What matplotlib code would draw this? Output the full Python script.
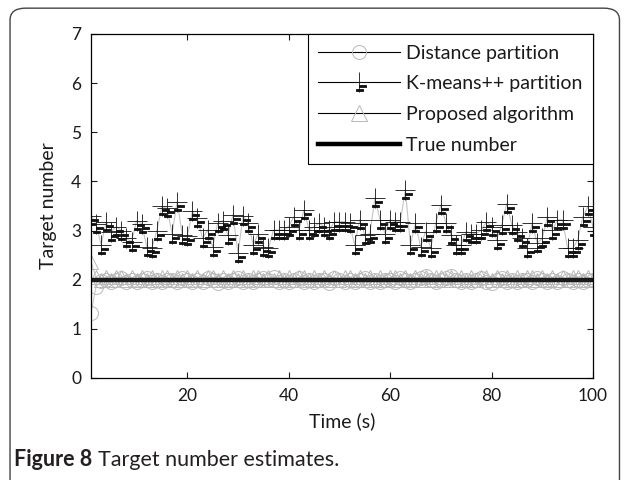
import numpy as np
from matplotlib import pyplot as plt
from matplotlib.path import Path
from matplotlib.lines import Line2D
from matplotlib.patches import FancyBboxPatch

plt.rcParams['font.family'] = ['Lato', 'DejaVu Sans']

# time axis (s)
time = list(range(1, 101))

# K-means++ partition estimates, t = 1..100
kmeans = [3.3, 3.14, 2.71, 3.18, 2.98, 3.08, 3.0, 2.84, 2.77, 3.2,
          3.14, 2.67, 2.64, 3.0, 3.49, 3.45, 2.94, 3.59, 2.91, 2.88,
          3.39, 3.25, 2.84, 3.01, 2.67, 3.15, 3.2, 2.91, 3.32, 2.54,
          3.3, 3.15, 2.71, 2.94, 2.67, 2.64, 3.01, 3.01, 3.01, 3.08,
          3.28, 3.01, 3.42, 3.01, 3.08, 3.15, 3.08, 3.01, 3.18, 3.18,
          3.18, 3.15, 2.71, 3.22, 2.91, 2.94, 3.66, 3.22, 2.94, 3.22,
          3.18, 3.18, 3.83, 2.71, 3.15, 2.67, 2.98, 2.64, 3.15, 3.52,
          3.15, 2.91, 2.71, 2.71, 2.98, 2.94, 2.94, 3.01, 3.18, 3.08,
          2.81, 3.11, 3.55, 3.11, 2.98, 2.84, 2.64, 3.15, 2.74, 2.84,
          3.28, 3.01, 3.22, 3.22, 2.64, 2.64, 2.81, 3.28, 3.49, 3.08]

# distance partition estimates
distance = [1.32, 1.86, 1.97, 2.0, 1.95, 2.0, 2.03, 1.96, 2.0, 1.95,
            2.0, 2.03, 1.96, 2.0, 1.95, 2.0, 2.0, 1.96, 2.03, 2.0,
            1.95, 2.0, 1.96, 2.03, 2.0, 1.94, 2.0, 1.96, 2.0, 2.03,
            1.96, 2.0, 1.95, 2.0, 2.03, 2.0, 2.05, 1.96, 2.0, 1.95,
            2.0, 2.03, 1.96, 2.0, 1.95, 2.0, 2.0, 1.94, 2.03, 2.0,
            1.96, 2.0, 1.95, 2.0, 2.03, 1.96, 2.0, 1.95, 2.0, 2.0,
            1.96, 2.03, 2.0, 1.95, 2.0, 2.03, 2.07, 2.0, 1.96, 2.0,
            2.03, 2.07, 2.0, 1.96, 2.0, 1.95, 2.0, 2.03, 1.96, 1.94,
            2.0, 2.03, 1.96, 2.0, 1.95, 2.0, 2.0, 1.96, 2.03, 2.0,
            1.95, 2.0, 1.96, 2.03, 2.0, 1.95, 2.0, 1.96, 2.0, 2.0]

# proposed algorithm estimates
proposed = [2.37, 2.05, 2.0, 2.05, 2.0, 2.05, 2.05, 2.0, 2.05, 2.0,
            2.05, 2.0, 2.05, 2.0, 2.05, 2.05, 2.0, 2.05, 2.0, 2.05,
            2.0, 2.05, 2.0, 2.05, 2.05, 2.0, 2.05, 2.0, 2.05, 2.0,
            2.05, 2.0, 2.05, 2.05, 2.0, 2.05, 2.0, 2.05, 2.0, 2.05,
            2.0, 2.05, 2.05, 2.0, 2.05, 2.0, 2.05, 2.0, 2.05, 2.0,
            2.05, 2.05, 2.0, 2.05, 2.0, 2.05, 2.0, 2.05, 2.0, 2.05,
            2.05, 2.0, 2.05, 2.0, 2.05, 2.0, 2.05, 2.0, 2.05, 2.05,
            2.0, 2.05, 2.0, 2.05, 2.0, 2.05, 2.0, 2.05, 2.05, 2.0,
            2.05, 2.0, 2.05, 2.0, 2.05, 2.0, 2.05, 2.05, 2.0, 2.05,
            2.0, 2.05, 2.0, 2.05, 2.0, 2.05, 2.05, 2.0, 2.05, 2.0]

true_number = [2] * len(time)

labels = ["Distance partition", "K-means++ partition", "Proposed algorithm", "True number"]
xticks = [20, 40, 60, 80, 100]
yticks = [0, 1, 2, 3, 4, 5, 6, 7]

# thin cross with two little bars under it, like the original marker
verts = [(-1, 0), (1, 0), (0, -1), (0, 1),
         (0.05, -0.3), (0.75, -0.3), (0.75, -0.5), (0.05, -0.5), (0.05, -0.3),
         (-0.35, -0.68), (0.4, -0.68), (0.4, -0.88), (-0.35, -0.88), (-0.35, -0.68)]
codes = [Path.MOVETO, Path.LINETO, Path.MOVETO, Path.LINETO,
         Path.MOVETO, Path.LINETO, Path.LINETO, Path.LINETO, Path.CLOSEPOLY,
         Path.MOVETO, Path.LINETO, Path.LINETO, Path.LINETO, Path.CLOSEPOLY]
kmarker = Path(verts, codes)

fig = plt.figure(figsize=(6.27, 4.8), dpi=100)
fig.patches.append(FancyBboxPatch((0.016, -0.03), 0.972, 1.013,
                                  boxstyle="round,pad=0,rounding_size=0.025",
                                  transform=fig.transFigure, fill=False,
                                  edgecolor='#444444', linewidth=1.0))
ax = fig.add_axes([0.1451, 0.2125, 0.8006, 0.7167])

ax.plot(time, distance, color='#c4c4c4', lw=0.7, marker='o', ms=10,
        mfc='none', mec='#b8b8b8', mew=0.7)
ax.plot(time, kmeans, color='#c4c4c4', lw=0.8, marker=kmarker, ms=14,
        mfc='#111111', mec='#111111', mew=0.6)
ax.plot(time, proposed, color='#c4c4c4', lw=0.7, marker='^', ms=9.5,
        mfc='none', mec='#b8b8b8', mew=0.7)
ax.plot(time, true_number, color='#1a1a1a', lw=3.2)

ax.set_xlim(1, 100)
ax.set_ylim(0, 7)
ax.set_xticks(xticks)
ax.set_yticks(yticks)
ax.tick_params(direction='in', top=True, right=True, length=4, labelsize=12.5,
               colors='#1a1a1a', pad=7)
for s in ax.spines.values():
    s.set_linewidth(0.9)
ax.set_xlabel("Time (s)", fontsize=14, labelpad=6, color='#1a1a1a')
ax.set_ylabel("Target number", fontsize=14, labelpad=10, color='#1a1a1a')

handles = [Line2D([], [], color='black', lw=0.8, marker='o', ms=10, mfc='none', mec='#b8b8b8', mew=0.7),
           Line2D([], [], color='black', lw=0.8, marker=kmarker, ms=14, mfc='#111111', mec='#111111', mew=0.6),
           Line2D([], [], color='black', lw=0.8, marker='^', ms=11, mfc='none', mec='#b8b8b8', mew=0.7),
           Line2D([], [], color='black', lw=3.2)]
leg = ax.legend(handles, labels, loc='upper right', bbox_to_anchor=(1, 1),
                borderaxespad=0, fontsize=14, handlelength=4.2,
                fancybox=False, framealpha=1, edgecolor='black',
                labelspacing=0.7, borderpad=0.55, handletextpad=0.3)
leg.get_frame().set_linewidth(0.8)
for t in leg.get_texts():
    t.set_color('#1a1a1a')

cap1 = fig.text(0.022, 0.03, "Figure 8", fontsize=15.5, fontweight='bold', color='#231f20')
fig.canvas.draw()
bb = cap1.get_window_extent()
fig.text(bb.x1 / fig.bbox.width + 0.009, 0.03, "Target number estimates.",
         fontsize=15.5, color='#231f20')

plt.savefig("out.png", dpi=100)
